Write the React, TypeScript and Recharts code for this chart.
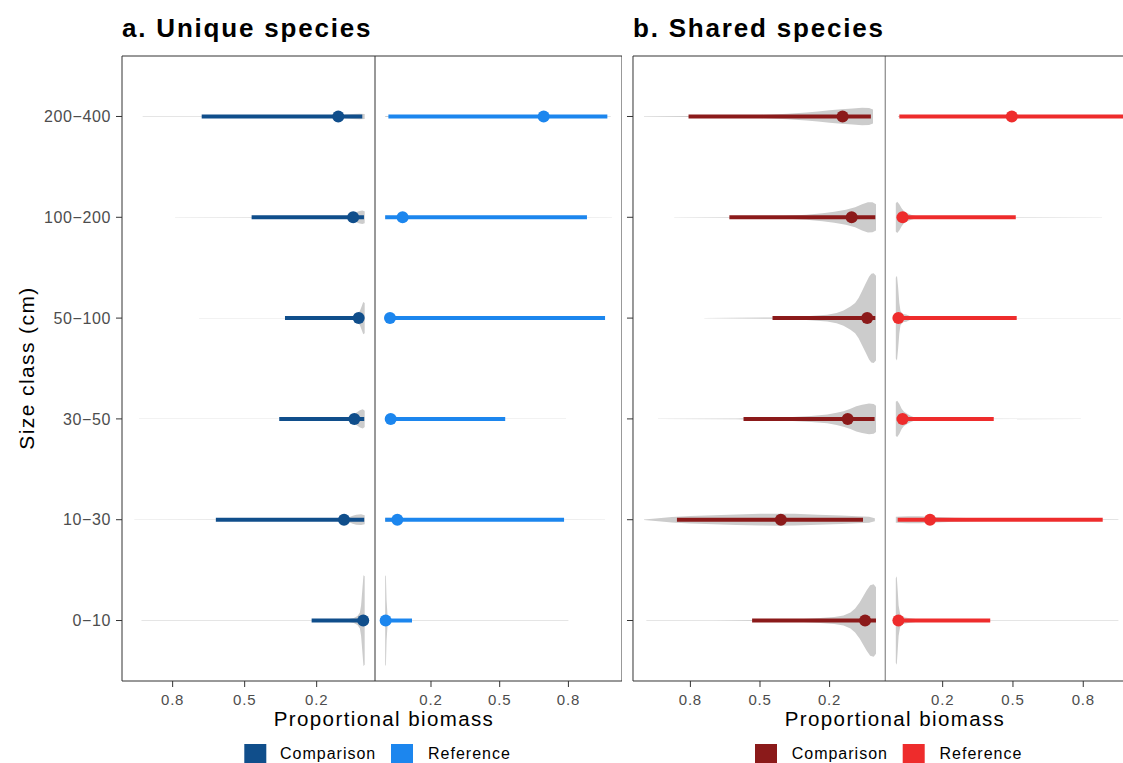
import React from 'react';
import { ComposedChart, Scatter, XAxis, YAxis, ReferenceArea } from 'recharts';

// size classes, bottom (index 0) to top
const sizeClasses = ['0−10', '10−30', '30−50', '50−100', '100−200', '200−400'];
const classTicks = [0, 1, 2, 3, 4, 5];
const biomassTicks = [0.2, 0.5, 0.8];
const legendLabels = ['Comparison', 'Reference'];

// a. Unique species
const uniqueCompMean = [0.006, 0.086, 0.043, 0.025, 0.048, 0.11];
const uniqueCompLow = [0.003, 0.002, 0.002, 0.011, 0.003, 0.01];
const uniqueCompHigh = [0.221, 0.62, 0.356, 0.332, 0.471, 0.679];
const uniqueRefMean = [0.002, 0.053, 0.024, 0.021, 0.076, 0.692];
const uniqueRefLow = [0, 0, 0, 0, 0, 0.014];
const uniqueRefHigh = [0.117, 0.781, 0.524, 0.96, 0.881, 0.97];

// b. Shared species
const sharedCompMean = [0.047, 0.41, 0.122, 0.038, 0.105, 0.144];
const sharedCompLow = [0, 0.056, 0.006, 0.003, 0.003, 0.022];
const sharedCompHigh = [0.534, 0.858, 0.571, 0.446, 0.632, 0.808];
const sharedRefMean = [0.011, 0.146, 0.029, 0.011, 0.029, 0.495];
const sharedRefLow = [0.008, 0.008, 0.004, 0.011, 0.004, 0.015];
const sharedRefHigh = [0.403, 0.883, 0.418, 0.516, 0.512, 1.0];

// violin profiles: [biomass, half width in class units]
type Profile = [number, number][];

const uniqueCompViolins: Profile[] = [
  [[0, 0.44], [0.005, 0.45], [0.01, 0.3], [0.015, 0.15], [0.02, 0.08], [0.03, 0.045], [0.045, 0.025], [0.07, 0.012], [0.12, 0.006], [0.2, 0.002], [0.93, 0.0015]],
  [[0, 0.045], [0.015, 0.053], [0.035, 0.05], [0.05, 0.04], [0.065, 0.025], [0.09, 0.012], [0.15, 0.006], [0.3, 0.002], [0.96, 0.0015]],
  [[0, 0.08], [0.008, 0.095], [0.02, 0.085], [0.035, 0.06], [0.05, 0.035], [0.065, 0.015], [0.1, 0.007], [0.3, 0.002], [0.94, 0.0015]],
  [[0, 0.15], [0.006, 0.16], [0.012, 0.12], [0.02, 0.07], [0.03, 0.04], [0.045, 0.02], [0.06, 0.01], [0.1, 0.005], [0.2, 0.002], [0.69, 0.0015]],
  [[0, 0.06], [0.01, 0.067], [0.025, 0.06], [0.045, 0.04], [0.06, 0.02], [0.08, 0.01], [0.15, 0.005], [0.4, 0.002], [0.79, 0.0015]],
  [[0, 0.025], [0.02, 0.028], [0.05, 0.025], [0.08, 0.02], [0.12, 0.012], [0.2, 0.006], [0.5, 0.002], [0.925, 0.0015]],
];

const uniqueRefViolins: Profile[] = [
  [[0, 0.44], [0.003, 0.45], [0.006, 0.2], [0.01, 0.06], [0.02, 0.02], [0.04, 0.008], [0.1, 0.003], [0.8, 0.0015]],
  [[0, 0.02], [0.02, 0.02], [0.05, 0.01], [0.2, 0.003], [0.96, 0.0015]],
  [[0, 0.02], [0.02, 0.02], [0.05, 0.01], [0.2, 0.003], [0.79, 0.0015]],
  [[0, 0.03], [0.01, 0.035], [0.025, 0.02], [0.05, 0.008], [0.2, 0.003], [0.96, 0.0015]],
  [[0, 0.015], [0.05, 0.012], [0.2, 0.004], [0.99, 0.0015]],
  [[0, 0.005], [0.3, 0.006], [0.7, 0.006], [0.985, 0.0015]],
];

const sharedCompViolins: Profile[] = [
  [[0, 0.33], [0.01, 0.36], [0.025, 0.35], [0.04, 0.3], [0.055, 0.24], [0.07, 0.18], [0.09, 0.12], [0.11, 0.08], [0.14, 0.05], [0.18, 0.035], [0.24, 0.025], [0.33, 0.013], [0.45, 0.005], [0.7, 0.002], [0.99, 0.0015]],
  [[0.005, 0.015], [0.03, 0.03], [0.08, 0.035], [0.15, 0.042], [0.25, 0.05], [0.35, 0.058], [0.42, 0.06], [0.5, 0.058], [0.6, 0.052], [0.7, 0.045], [0.8, 0.038], [0.88, 0.028], [0.95, 0.012], [1.0, 0.002]],
  [[0, 0.13], [0.01, 0.148], [0.03, 0.153], [0.06, 0.14], [0.085, 0.125], [0.11, 0.1], [0.14, 0.077], [0.17, 0.06], [0.21, 0.043], [0.28, 0.03], [0.36, 0.02], [0.45, 0.012], [0.6, 0.004], [0.94, 0.0015]],
  [[0, 0.42], [0.01, 0.445], [0.02, 0.44], [0.03, 0.41], [0.045, 0.34], [0.06, 0.27], [0.075, 0.2], [0.09, 0.15], [0.11, 0.115], [0.14, 0.075], [0.17, 0.05], [0.21, 0.033], [0.3, 0.018], [0.45, 0.006], [0.74, 0.0015]],
  [[0, 0.13], [0.015, 0.148], [0.035, 0.15], [0.06, 0.13], [0.09, 0.1], [0.13, 0.075], [0.18, 0.055], [0.23, 0.04], [0.3, 0.025], [0.4, 0.012], [0.55, 0.004], [0.87, 0.0015]],
  [[0.013, 0.07], [0.03, 0.085], [0.06, 0.086], [0.1, 0.08], [0.15, 0.072], [0.2, 0.062], [0.25, 0.05], [0.3, 0.04], [0.38, 0.027], [0.5, 0.015], [0.65, 0.008], [0.8, 0.004], [1.0, 0.002]],
];

const sharedRefViolins: Profile[] = [
  [[0, 0.42], [0.004, 0.44], [0.008, 0.3], [0.012, 0.15], [0.018, 0.07], [0.025, 0.04], [0.04, 0.03], [0.06, 0.022], [0.085, 0.015], [0.12, 0.005], [0.4, 0.002], [0.95, 0.0015]],
  [[0, 0.03], [0.05, 0.035], [0.1, 0.035], [0.15, 0.03], [0.25, 0.02], [0.4, 0.012], [0.6, 0.007], [0.8, 0.004], [0.95, 0.002]],
  [[0, 0.17], [0.006, 0.18], [0.015, 0.15], [0.025, 0.1], [0.035, 0.07], [0.047, 0.053], [0.06, 0.035], [0.075, 0.02], [0.1, 0.01], [0.2, 0.003], [0.79, 0.0015]],
  [[0, 0.4], [0.005, 0.42], [0.01, 0.3], [0.015, 0.15], [0.02, 0.07], [0.03, 0.04], [0.045, 0.035], [0.06, 0.02], [0.1, 0.008], [0.3, 0.002], [0.96, 0.0015]],
  [[0, 0.14], [0.006, 0.155], [0.015, 0.13], [0.025, 0.09], [0.035, 0.06], [0.05, 0.04], [0.065, 0.025], [0.085, 0.012], [0.15, 0.005], [0.54, 0.002], [0.88, 0.0015]],
  [[0.01, 0.004], [0.5, 0.006], [1.0, 0.004]],
];

const FONT = '"Liberation Sans", Arial, Helvetica, sans-serif';
const H = 763;
const Y_DOMAIN: [number, number] = [-0.6, 5.6];

// outline of a violin around class idx: upper edge out, lower edge back
const violinOutline = (profile: Profile, idx: number) => [
  ...profile.map(([v, w]) => ({ x: v, y: idx + w })),
  ...profile.slice().reverse().map(([v, w]) => ({ x: v, y: idx - w })),
];

const noMarker = () => <g />;

interface HalfProps {
  left: number;
  width: number;
  domain: [number, number];
  reversed?: boolean;
  axisWidth: number;
  labelled?: boolean;
  mean: number[];
  low: number[];
  high: number[];
  violins: Profile[];
  color: string;
}

const HalfPanel: React.FC<HalfProps> = ({ left, width, domain, reversed, axisWidth, labelled, mean, low, high, violins, color }) => {
  const points = mean.map((m, i) => ({ x: m, y: i }));

  return (
    <div style={{ position: 'absolute', left, top: 0 }}>
      <ComposedChart width={width} height={H} margin={{ top: 56, right: 0, bottom: 52, left: 0 }}>
        <XAxis
          type="number"
          dataKey="x"
          domain={domain}
          allowDataOverflow
          reversed={reversed}
          ticks={biomassTicks}
          interval={0}
          tickFormatter={(v: number) => v.toFixed(1)}
          axisLine={false}
          tickLine={{ stroke: '#333333' }}
          tickSize={6}
          tickMargin={7}
          height={30}
          tick={{ fill: '#4D4D4D', fontSize: 15, fontFamily: FONT, style: { letterSpacing: '0.8px' } }}
        />
        <YAxis
          type="number"
          dataKey="y"
          domain={Y_DOMAIN}
          allowDataOverflow
          ticks={classTicks}
          interval={0}
          hide={axisWidth === 0}
          width={axisWidth}
          tickFormatter={(v: number) => (labelled ? sizeClasses[v] : '')}
          axisLine={false}
          tickLine={{ stroke: '#333333' }}
          tickSize={6}
          tickMargin={5}
          tick={{ fill: '#4D4D4D', fontSize: 16, fontFamily: FONT, style: { letterSpacing: '0.6px' } }}
        />
        {violins.map((p, i) => (
          <Scatter
            key={`violin-${i}`}
            data={violinOutline(p, i)}
            line={{ fill: '#CCCCCC', stroke: 'none' }}
            lineType="joint"
            shape={noMarker}
            isAnimationActive={false}
          />
        ))}
        {mean.map((_, i) => (
          <Scatter
            key={`interval-${i}`}
            data={[{ x: low[i], y: i }, { x: high[i], y: i }]}
            line={{ stroke: color, strokeWidth: 4, fill: 'none' }}
            lineType="joint"
            shape={noMarker}
            isAnimationActive={false}
          />
        ))}
        <Scatter
          data={points}
          shape={(p: any) => <circle cx={p.cx} cy={p.cy} r={6} fill={color} />}
          isAnimationActive={false}
        />
        <ReferenceArea x1={domain[0]} x2={domain[1]} y1={Y_DOMAIN[0]} y2={Y_DOMAIN[1]} fill="none" stroke="#333333" ifOverflow="visible" />
      </ComposedChart>
    </div>
  );
};

const Legend: React.FC<{ colors: string[]; textX: number[]; squareX: number[] }> = ({ colors, textX, squareX }) => (
  <g>
    {legendLabels.map((lab, i) => (
      <g key={lab}>
        <rect x={squareX[i]} y={744} width={22} height={22} fill={colors[i]} />
        <text x={textX[i]} y={759} fontSize={16} fontFamily={FONT} fill="#000" style={{ letterSpacing: '1px' }}>
          {lab}
        </text>
      </g>
    ))}
  </g>
);

export default function App() {
  return (
    <div style={{ position: 'absolute', left: 0, top: 0, width: 1123, height: H, overflow: 'hidden', background: '#fff' }}>
      <HalfPanel left={0} width={375} domain={[-0.043, 1.011]} reversed axisWidth={122} labelled
        mean={uniqueCompMean} low={uniqueCompLow} high={uniqueCompHigh} violins={uniqueCompViolins} color="#104E8B" />
      <HalfPanel left={375} width={247} domain={[-0.0445, 1.034]} axisWidth={0}
        mean={uniqueRefMean} low={uniqueRefLow} high={uniqueRefHigh} violins={uniqueRefViolins} color="#1C86EE" />
      <HalfPanel left={624.7} width={260.3} domain={[-0.0401, 1.0474]} reversed axisWidth={8}
        mean={sharedCompMean} low={sharedCompLow} high={sharedCompHigh} violins={sharedCompViolins} color="#8B1A1A" />
      <HalfPanel left={885} width={247} domain={[-0.0461, 1.008]} axisWidth={0}
        mean={sharedRefMean} low={sharedRefLow} high={sharedRefHigh} violins={sharedRefViolins} color="#EE2C2C" />

      <svg width={1123} height={H} style={{ position: 'absolute', left: 0, top: 0, pointerEvents: 'none' }}>
        <text x={122} y={36.7} fontSize={26} fontWeight="bold" fontFamily={FONT} fill="#000" style={{ letterSpacing: '1.8px' }}>
          a. Unique species
        </text>
        <text x={633} y={36.7} fontSize={26} fontWeight="bold" fontFamily={FONT} fill="#000" style={{ letterSpacing: '1.8px' }}>
          b. Shared species
        </text>
        <text x={384} y={726} textAnchor="middle" fontSize={20.5} fontFamily={FONT} fill="#000" style={{ letterSpacing: '1.4px' }}>
          Proportional biomass
        </text>
        <text x={895} y={726} textAnchor="middle" fontSize={20.5} fontFamily={FONT} fill="#000" style={{ letterSpacing: '1.4px' }}>
          Proportional biomass
        </text>
        <text x={34} y={368} transform="rotate(-90 34 368)" textAnchor="middle" fontSize={21} fontFamily={FONT} fill="#000" style={{ letterSpacing: '1.4px' }}>
          Size class (cm)
        </text>
        <Legend colors={['#104E8B', '#1C86EE']} squareX={[244.3, 391]} textX={[280, 428]} />
        <Legend colors={['#8B1A1A', '#EE2C2C']} squareX={[755, 902.7]} textX={[791.7, 939.5]} />
      </svg>
    </div>
  );
}
